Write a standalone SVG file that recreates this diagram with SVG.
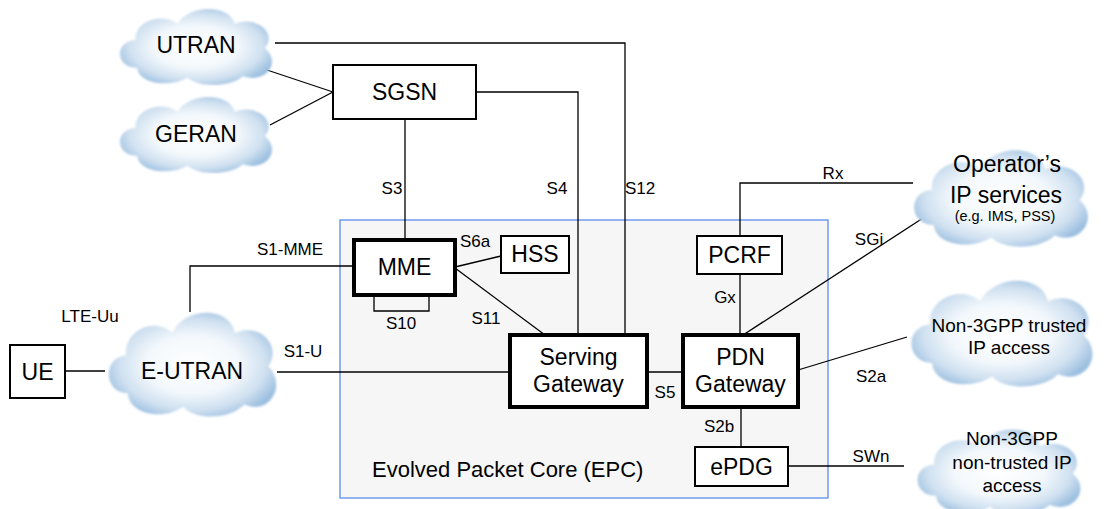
<svg xmlns="http://www.w3.org/2000/svg" width="1107" height="509" viewBox="0 0 1107 509">
<defs>
<radialGradient id="cg" cx="0.5" cy="0.5" r="0.55">
<stop offset="0" stop-color="#ffffff"/>
<stop offset="0.5" stop-color="#f3f8fc"/>
<stop offset="0.8" stop-color="#cfe0f0"/>
<stop offset="1" stop-color="#9dc0e0"/>
</radialGradient>
<filter id="soft" x="-5%" y="-5%" width="110%" height="110%"><feGaussianBlur stdDeviation="1"/></filter>
<symbol id="cloud" viewBox="0 0 200 100" preserveAspectRatio="none">
<path d="M30,78 C4,78 2,46 28,44 C26,20 62,10 78,24 C92,0 140,0 146,24 C170,14 198,34 182,54 C202,70 184,98 156,88 C140,102 102,102 90,90 C70,102 32,98 30,78 Z" fill="url(#cg)" filter="url(#soft)"/>
</symbol>
<style>
.box{fill:#fff;stroke:#000;stroke-width:2}
.thick{fill:#fff;stroke:#000;stroke-width:4}
.ln{fill:none;stroke:#000;stroke-width:1.3}
.t{font-family:"Liberation Sans",Arial,sans-serif;font-size:23px;text-anchor:middle;fill:#000}
.l{font-family:"Liberation Sans",Arial,sans-serif;font-size:17px;text-anchor:middle;fill:#000}
.c{font-family:"Liberation Sans",Arial,sans-serif;font-size:23px;text-anchor:middle;fill:#000}
.s{font-family:"Liberation Sans",Arial,sans-serif;font-size:19px;text-anchor:middle;fill:#000}
</style>
</defs>
<rect width="1107" height="509" fill="#fff"/>
<g id="epc">
<rect x="340" y="220" width="488" height="278" fill="#f6f6f6" stroke="#5b8def" stroke-width="1.3"/>
<text x="372" y="477" font-family="Liberation Sans, Arial, sans-serif" font-size="22" fill="#000">Evolved Packet Core (EPC)</text>
</g>
<g id="connectors">
<polyline class="ln" points="275,43 625,43 625,335"/>
<line class="ln" x1="255" y1="66" x2="333" y2="92"/>
<line class="ln" x1="270" y1="125" x2="333" y2="92"/>
<line class="ln" x1="405" y1="119" x2="405" y2="240"/>
<polyline class="ln" points="476,92 578,92 578,335"/>
<polyline class="ln" points="190,312 190,266 354,266"/>
<line class="ln" x1="65" y1="371" x2="105" y2="371"/>
<line class="ln" x1="277" y1="372" x2="510" y2="372"/>
<polyline class="ln" points="374,295 374,311 429,311 429,295"/>
<line class="ln" x1="455" y1="267" x2="501" y2="256"/>
<line class="ln" x1="455" y1="268" x2="545" y2="335"/>
<line class="ln" x1="647" y1="372" x2="683" y2="372"/>
<polyline class="ln" points="913,183 740,183 740,236"/>
<line class="ln" x1="740" y1="274" x2="740" y2="335"/>
<line class="ln" x1="743" y1="335" x2="940" y2="207"/>
<line class="ln" x1="798" y1="370" x2="907" y2="337"/>
<line class="ln" x1="741" y1="407" x2="741" y2="447"/>
<line class="ln" x1="788" y1="466" x2="904" y2="466"/>
<text class="l" x="392" y="194">S3</text>
<text class="l" x="557" y="194">S4</text>
<text class="l" x="640" y="194">S12</text>
<text class="l" x="290" y="255">S1-MME</text>
<text class="l" x="90" y="322">LTE-Uu</text>
<text class="l" x="303" y="357">S1-U</text>
<text class="l" x="475" y="247">S6a</text>
<text class="l" x="486" y="324">S11</text>
<text class="l" x="401" y="329">S10</text>
<text class="l" x="665" y="398">S5</text>
<text class="l" x="719" y="432">S2b</text>
<text class="l" x="871" y="462">SWn</text>
<text class="l" x="871" y="382">S2a</text>
<text class="l" x="833" y="179">Rx</text>
<text class="l" x="725" y="303">Gx</text>
<text class="l" x="869" y="245">SGi</text>
</g>
<g id="utran"><use href="#cloud" x="112" y="4" width="168" height="82"/><text class="c" x="196" y="53">UTRAN</text></g>
<g id="geran"><use href="#cloud" x="112" y="92" width="168" height="82"/><text class="c" x="196" y="142">GERAN</text></g>
<g id="eutran"><use href="#cloud" x="100" y="306" width="185" height="112"/><text class="c" x="192" y="379">E-UTRAN</text></g>
<g id="operator"><use href="#cloud" x="905" y="144" width="192" height="104"/>
<text class="c" x="1007" y="172" font-size="22">Operator’s</text>
<text class="c" x="1006" y="203" font-size="22">IP services</text>
<text font-family="Liberation Sans, Arial, sans-serif" font-size="14.5" text-anchor="middle" x="1005" y="221">(e.g. IMS, PSS)</text></g>
<g id="trusted"><use href="#cloud" x="902" y="274" width="200" height="114"/>
<text class="s" x="1009" y="332">Non-3GPP trusted</text>
<text class="s" x="1009" y="354">IP access</text></g>
<g id="untrusted"><use href="#cloud" x="909" y="424" width="180" height="92"/>
<text class="s" x="1012" y="445">Non-3GPP</text>
<text class="s" x="1012" y="469">non-trusted IP</text>
<text class="s" x="1012" y="492">access</text></g>
<g id="ue"><rect class="box" x="10" y="345" width="55" height="53"/><text class="t" x="37.5" y="380">UE</text></g>
<g id="sgsn"><rect class="box" x="333" y="65" width="143" height="54"/><text class="t" x="404.5" y="100">SGSN</text></g>
<g id="mme"><rect class="thick" x="354" y="240" width="101" height="55"/><text class="t" x="404.5" y="275">MME</text></g>
<g id="hss"><rect class="box" x="501" y="236" width="68" height="37"/><text class="t" x="535" y="262">HSS</text></g>
<g id="sgw"><rect class="thick" x="510" y="335" width="137" height="72"/><text class="t" x="578.5" y="365">Serving</text><text class="t" x="578.5" y="392">Gateway</text></g>
<g id="pdngw"><rect class="thick" x="683" y="335" width="115" height="72"/><text class="t" x="740.5" y="365">PDN</text><text class="t" x="740.5" y="392">Gateway</text></g>
<g id="pcrf"><rect class="box" x="697" y="236" width="85" height="38"/><text class="t" x="739.5" y="263">PCRF</text></g>
<g id="epdg"><rect class="box" x="695" y="447" width="93" height="39"/><text class="t" x="741.5" y="475">ePDG</text></g>
</svg>
